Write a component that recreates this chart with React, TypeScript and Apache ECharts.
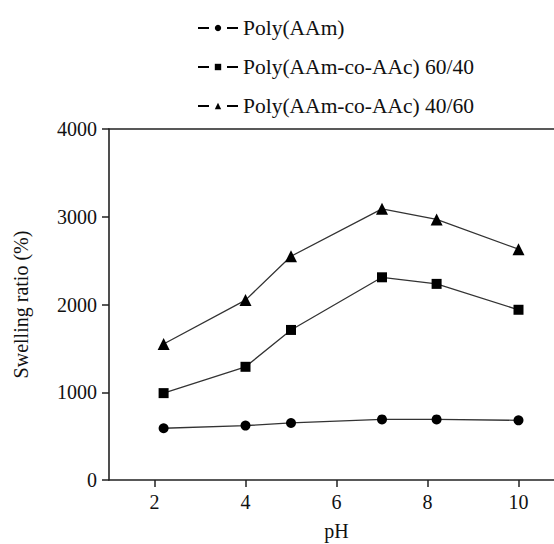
import React, { useEffect, useRef } from "react";
import * as echarts from "echarts";

const pH = [2.2, 4, 5, 7, 8.2, 10];
const polyAAm = [590, 620, 650, 690, 690, 680];
const copol6040 = [990, 1290, 1710, 2310, 2235, 1940];
const copol4060 = [1550, 2050, 2550, 3090, 2970, 2630];
const seriesNames = ["Poly(AAm)", "Poly(AAm-co-AAc) 60/40", "Poly(AAm-co-AAc) 40/60"];
const xTicks = [2, 4, 6, 8, 10];

const FONT = "'Liberation Serif', 'DejaVu Serif', serif";

export default function App() {
  const ref = useRef<HTMLDivElement>(null);
  useEffect(() => {
    document.body.style.margin = "0";
    const chart = echarts.init(ref.current!, null, { renderer: "svg" });
    const mk = (name: string, data: number[], symbol: string, size: number) => ({
      name,
      type: "line",
      data: pH.map((x, i) => [x, data[i]]),
      symbol,
      symbolSize: size,
      showAllSymbol: true,
      lineStyle: { color: "#333", width: 1.3 },
      itemStyle: { color: "#000" },
      emphasis: { disabled: true },
    });
    const txt = { fontFamily: FONT, fontSize: 20, color: "#111" };
    chart.setOption({
      animation: false,
      textStyle: { fontFamily: FONT },
      legend: {
        orient: "vertical",
        left: 192,
        top: 12,
        itemWidth: 40,
        itemHeight: 8,
        itemGap: 17,
        data: seriesNames,
        lineStyle: { type: [11, 18], width: 2, color: "#000" },
        textStyle: { ...txt, fontSize: 21.5, padding: [0, 0, 0, 0] },
      },
      grid: { left: 109, top: 129, bottom: 64, right: -10, containLabel: false, outerBoundsMode: "none" },
      xAxis: [
        {
          type: "value",
          min: 1,
          max: 11,
          name: "pH",
          nameLocation: "middle",
          nameGap: 41,
          nameTextStyle: txt,
          axisLine: { show: true, lineStyle: { color: "#222", width: 1.6 } },
          axisTick: { show: true, customValues: xTicks, length: 7, lineStyle: { color: "#222", width: 1.5 } },
          axisLabel: { customValues: xTicks, ...txt, margin: 12, formatter: (v: number) => String(v) },
          splitLine: { show: false },
        },
        {
          type: "value",
          position: "top",
          min: 1,
          max: 11,
          axisLine: { show: true, onZero: false, lineStyle: { color: "#222", width: 1.6 } },
          axisTick: { show: false },
          axisLabel: { show: false },
          splitLine: { show: false },
        },
      ],
      yAxis: {
        type: "value",
        min: 0,
        max: 4000,
        interval: 1000,
        name: "Swelling ratio (%)",
        nameLocation: "middle",
        nameGap: 78,
        nameTextStyle: txt,
        axisLine: { show: true, lineStyle: { color: "#222", width: 1.6 } },
        axisTick: { show: true, length: 7, lineStyle: { color: "#222", width: 1.5 } },
        axisLabel: { ...txt, margin: 12, formatter: (v: number) => String(v) },
        splitLine: { show: false },
      },
      series: [
        mk(seriesNames[0], polyAAm, "circle", 10),
        mk(seriesNames[1], copol6040, "rect", 10),
        mk(seriesNames[2], copol4060, "triangle", 12),
      ],
    });
    return () => chart.dispose();
  }, []);
  return <div ref={ref} style={{ width: 554, height: 544 }} />;
}
